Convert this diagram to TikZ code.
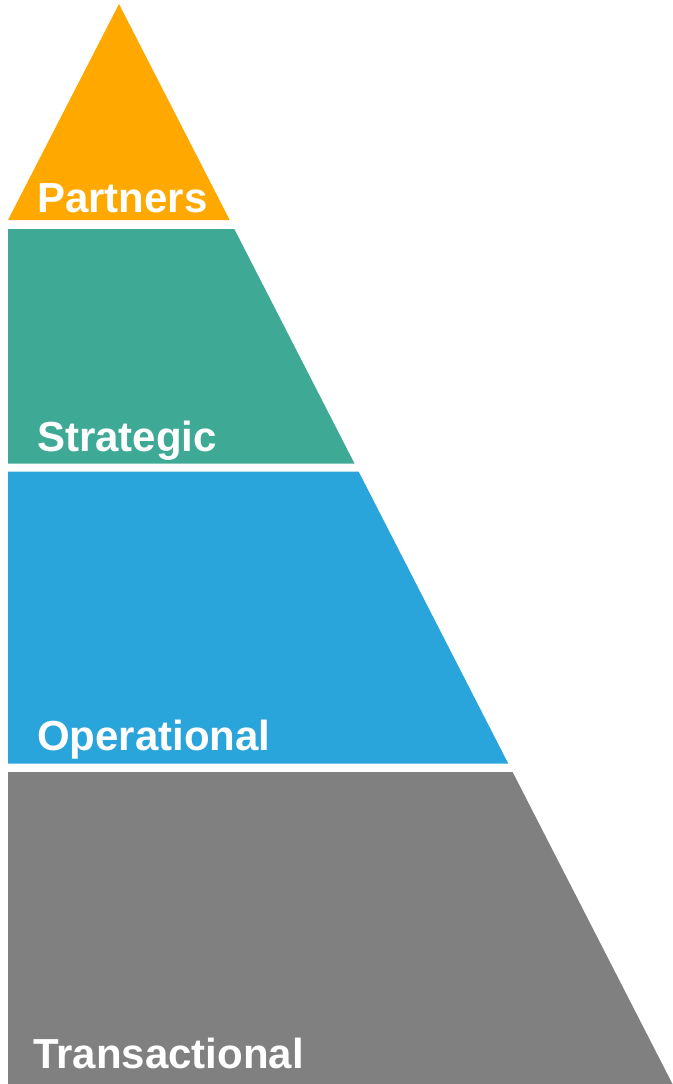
\documentclass[tikz,border=0pt]{standalone}
\usepackage{fontspec}
\setmainfont{Liberation Sans}
\definecolor{cPartner}{RGB}{255,169,0}
\definecolor{cStrat}{RGB}{62,170,150}
\definecolor{cOper}{RGB}{41,165,219}
\definecolor{cTrans}{RGB}{128,128,128}
\begin{document}
\begin{tikzpicture}[x=1pt,y=-1pt,
  layer/.style={draw=none},
  lbl/.style={anchor=base west,inner sep=0pt,text=white,font=\fontsize{42}{50}\selectfont\bfseries}]
\useasboundingbox (0,0) rectangle (672,1084);
\fill[layer,cPartner] (119,4) -- (229.7,220) -- (8,220) -- cycle;
\fill[layer,cStrat] (8,229) -- (234.3,229) -- (354.5,463.5) -- (8,463.5) -- cycle;
\fill[layer,cOper] (8,471.5) -- (358.6,471.5) -- (508.2,763.5) -- (8,763.5) -- cycle;
\fill[layer,cTrans] (8,772) -- (512.6,772) -- (672.5,1084) -- (8,1084) -- cycle;
\node[lbl] (partners) at (37,212) {Partners};
\node[lbl] (strategic) at (37,451) {Strategic};
\node[lbl] (operational) at (37,750) {Operational};
\node[lbl] (transactional) at (33,1068) {Transactional};
\end{tikzpicture}
\end{document}
